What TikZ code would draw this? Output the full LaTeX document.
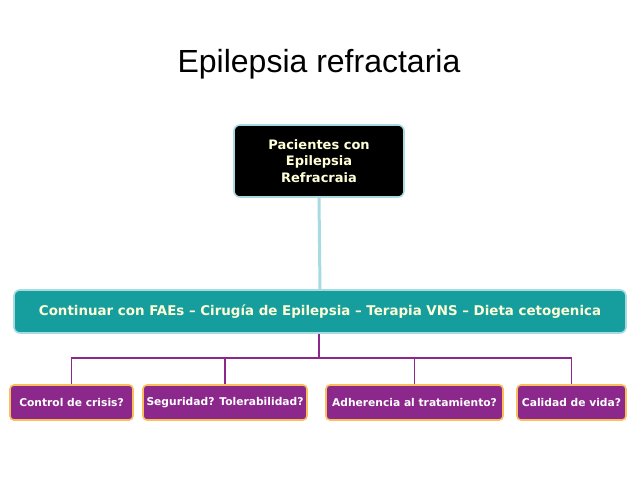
\documentclass[tikz,border=0pt]{standalone}
\usepackage{fontspec}
\setmainfont{DejaVu Sans}
\newfontfamily\titlefont{Liberation Sans}
\definecolor{tealbar}{RGB}{22,158,158}
\definecolor{paleblue}{RGB}{168,218,226}
\definecolor{purp}{RGB}{140,40,140}
\definecolor{orng}{RGB}{250,190,90}
\definecolor{cream}{RGB}{255,255,215}
\tikzset{
  leaf/.style={draw=orng, line width=1.6pt, fill=purp, rounded corners=4pt, text=white,
    font=\bfseries\fontsize{10.7}{12}\selectfont, minimum height=35pt, inner sep=2pt},
  conn/.style={draw=purp, line width=1.4pt}
}
\begin{document}
\begin{tikzpicture}[x=1pt,y=-1pt]
        \useasboundingbox (0,0) rectangle (638,479);
        \node (title) at (319,64) {\titlefont\fontsize{32}{36}\selectfont Epilepsia refractaria};
        \node (top) [draw=paleblue, line width=1.6pt, fill=black, rounded corners=6pt, text=cream,
          minimum width=170pt, minimum height=72pt, align=center, inner sep=1pt,
          font=\bfseries\fontsize{13}{16.5}\selectfont] at (319,161) {Pacientes con\\Epilepsia\\Refracraia};
        \node (bar) [draw=paleblue, line width=1.6pt, fill=tealbar, rounded corners=6pt, text=cream,
          minimum width=612pt, minimum height=43pt, inner sep=1pt,
          font=\bfseries\fontsize{13.4}{15}\selectfont] at (320,311.5) {Continuar con FAEs – Cirugía de Epilepsia – Terapia VNS – Dieta cetogenica};
        \draw [paleblue, line width=3pt] (top.south) -- (bar.north);
        \node (b1) [leaf, minimum width=123pt] at (71.5,402.5) {Control de crisis?};
        \node (b2) [leaf, minimum width=164pt] at (225,402.5) {Seguridad? Tolerabilidad?};
        \node (b3) [leaf, minimum width=177pt] at (414.5,402.5) {Adherencia al tratamiento?};
        \node (b4) [leaf, minimum width=109pt] at (571.5,402.5) {Calidad de vida?};
        \coordinate (hub) at (319,358);
        \draw [conn] (bar.south -| hub) -- (hub);
        \draw [conn] (b1.north) |- (hub) -| (b4.north);
        \draw [conn] (b2.north) -- (b2.north |- hub);
        \draw [conn] (b3.north) -- (b3.north |- hub);
      \end{tikzpicture}
\end{document}
